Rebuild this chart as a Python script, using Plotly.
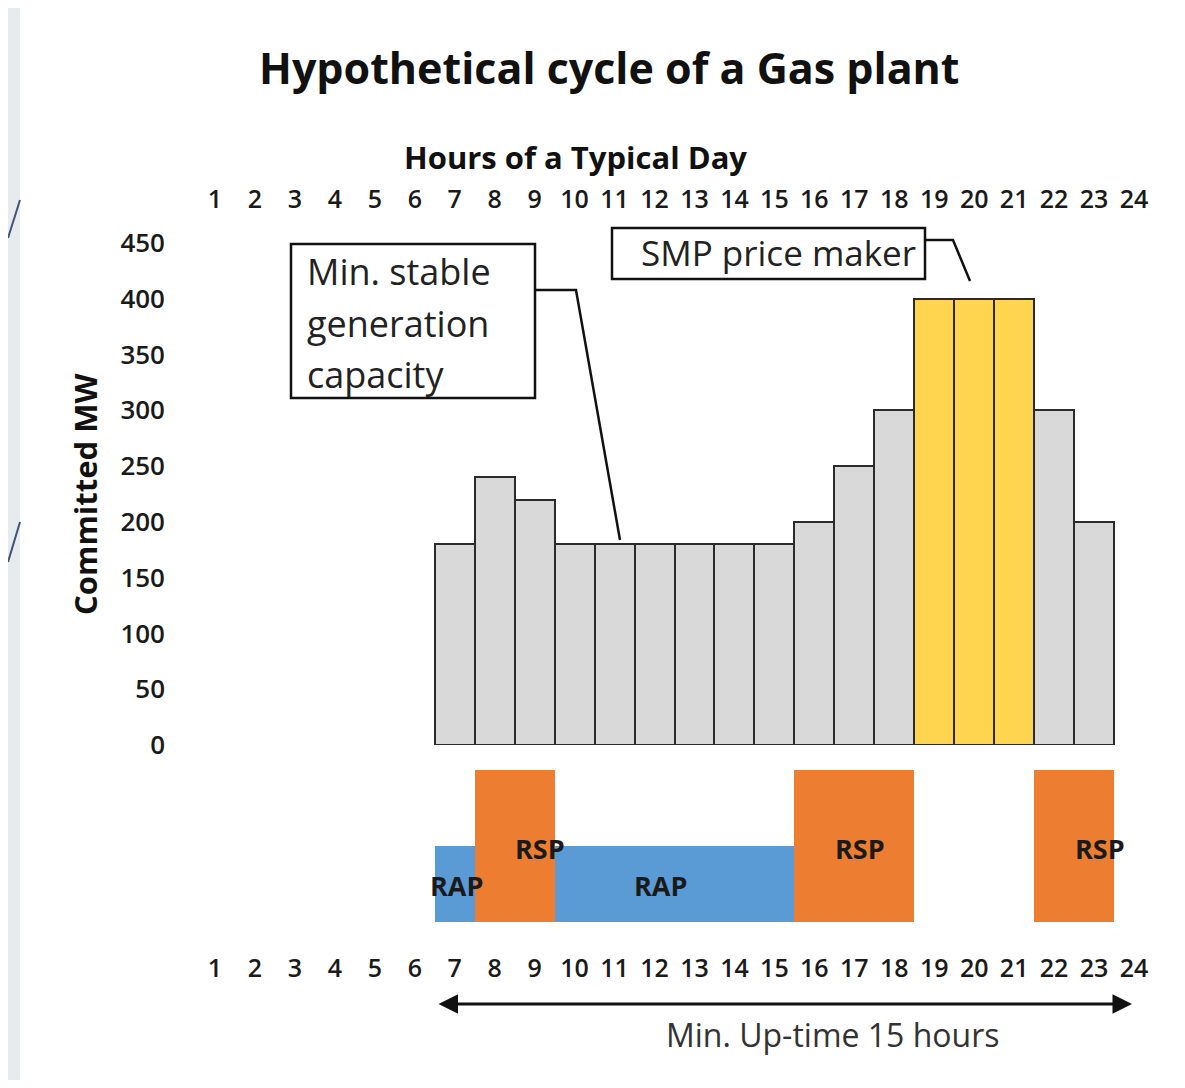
import plotly.graph_objects as go

# ---------------- data ----------------
hours = list(range(1, 25))
bar_hours = list(range(7, 24))
committed_mw = [180, 240, 220, 180, 180, 180, 180, 180, 180, 200, 250, 300, 400, 400, 400, 300, 200]
smp_hours = [19, 20, 21]
y_ticks = [0, 50, 100, 150, 200, 250, 300, 350, 400, 450]

rsp_hours = [8, 9, 16, 17, 18, 22, 23]
rap_hours = [7, 10, 11, 12, 13, 14, 15]
rsp_level = 2
rap_level = 1

# page body has an 8px margin; figure pixel = reference pixel - 8
OFF = 8
W, H = 1169, 1072
L = 195 - OFF
R = W - (1154 - OFF)
FONT = "Open Sans"

def xp(px):
    return (px - OFF - L) / (W - L - R)

def yp(py):
    return 1 - (py - OFF) / H

bar_colors = ["#FFD54F" if h in smp_hours else "#D9D9D9" for h in bar_hours]

fig = go.Figure()
fig.add_trace(go.Bar(
    x=bar_hours, y=committed_mw, width=1,
    marker=dict(color=bar_colors, line=dict(color="#2b2b2b", width=2)),
    xaxis="x", yaxis="y", showlegend=False,
))
fig.add_trace(go.Bar(
    x=rsp_hours, y=[rsp_level] * len(rsp_hours), width=1,
    marker=dict(color="#ED7D31", line=dict(width=0)),
    xaxis="x2", yaxis="y2", showlegend=False,
))
fig.add_trace(go.Bar(
    x=rap_hours, y=[rap_level] * len(rap_hours), width=1,
    marker=dict(color="#5B9BD5", line=dict(width=0)),
    xaxis="x2", yaxis="y2", showlegend=False,
))

tickfont = dict(family=FONT, size=25, color="#1a1a1a", weight=600)

fig.update_layout(
    width=W, height=H,
    margin=dict(l=L, r=R, t=0, b=0, autoexpand=False),
    paper_bgcolor="white", plot_bgcolor="white",
    bargap=0, barmode="overlay",
    xaxis=dict(domain=[0, 1], range=[0.5, 24.5], side="top", anchor="y", automargin=False,
               tickmode="array", tickvals=hours, ticktext=[str(h) for h in hours],
               tickfont=tickfont, ticks="", ticklabelstandoff=29,
               showgrid=False, zeroline=False, showline=False),
    yaxis=dict(domain=[yp(745), yp(243)], range=[0, 450], anchor="x", automargin=False,
               tickmode="array", tickvals=y_ticks,
               tickfont=dict(family=FONT, size=26, color="#1a1a1a", weight=600),
               ticklabelstandoff=29, showgrid=False, zeroline=False, showline=False),
    xaxis2=dict(domain=[0, 1], range=[0.5, 24.5], side="bottom", anchor="y2", automargin=False,
                tickmode="array", tickvals=hours, ticktext=[str(h) for h in hours],
                tickfont=tickfont, ticks="", ticklabelstandoff=29,
                showgrid=False, zeroline=False, showline=False),
    yaxis2=dict(domain=[yp(922), yp(770)], range=[0, 2], anchor="x2", automargin=False,
                showticklabels=False, showgrid=False, zeroline=False, showline=False),
    font=dict(family=FONT),
)

def text_ann(text, px, py, size, color="#111", xanchor="center", **kw):
    return dict(text=text, x=xp(px), y=yp(py), xref="paper", yref="paper",
                xanchor=xanchor, yanchor="middle", showarrow=False,
                font=dict(family=FONT, size=size, color=color), **kw)

ann = []
ann.append(text_ann("<b>Hypothetical cycle of a Gas plant</b>", 609, 68, 43))
ann.append(text_ann("<b>Hours of a Typical Day</b>", 575, 157, 31))
ann.append(text_ann("<b>Committed MW</b>", 85, 495, 31, textangle=-90))
for txt, py in [("Min. stable", 272), ("generation", 323), ("capacity", 374)]:
    ann.append(text_ann(txt, 305, py, 36, color="#222", xanchor="left"))
ann.append(text_ann("SMP price maker", 778, 252, 35, color="#222"))
for txt, px, py in [("RAP", 456, 885), ("RSP", 540, 848), ("RAP", 660, 885),
                    ("RSP", 860, 848), ("RSP", 1100, 848)]:
    ann.append(text_ann("<b>" + txt + "</b>", px, py, 27, color="#1a1a1a"))
ann.append(dict(text="", x=xp(1132), y=yp(1004), ax=-(1132 - 437), ay=0,
                xref="paper", yref="paper", axref="pixel", ayref="pixel",
                showarrow=True, arrowhead=2, arrowside="end+start", arrowsize=1.3,
                arrowwidth=3, arrowcolor="#111"))
ann.append(text_ann("Min. Up-time 15 hours", 833, 1034, 32, color="#333"))
fig.update_layout(annotations=ann)

shapes = []
shapes.append(dict(type="rect", xref="paper", yref="paper", x0=xp(OFF), x1=xp(20),
                   y0=0, y1=1, fillcolor="#E8EBEE", line=dict(width=0), layer="below"))
shapes.append(dict(type="line", xref="paper", yref="paper", x0=xp(OFF), y0=yp(238),
                   x1=xp(20), y1=yp(200), line=dict(color="#3E5378", width=2)))
shapes.append(dict(type="line", xref="paper", yref="paper", x0=xp(OFF), y0=yp(562),
                   x1=xp(20), y1=yp(522), line=dict(color="#3E5378", width=2)))
# min stable box
shapes.append(dict(type="rect", xref="paper", yref="paper", x0=xp(291), x1=xp(535),
                   y0=yp(398), y1=yp(244), line=dict(color="#111", width=2.5),
                   fillcolor="white"))
shapes.append(dict(type="path", xref="paper", yref="paper",
                   path=f"M {xp(535)},{yp(290)} L {xp(576)},{yp(290)} L {xp(620)},{yp(540)}",
                   line=dict(color="#111", width=2.5)))
# SMP box
shapes.append(dict(type="rect", xref="paper", yref="paper", x0=xp(612), x1=xp(925),
                   y0=yp(279), y1=yp(228), line=dict(color="#111", width=2.5),
                   fillcolor="white"))
shapes.append(dict(type="path", xref="paper", yref="paper",
                   path=f"M {xp(925)},{yp(240)} L {xp(953)},{yp(240)} L {xp(970)},{yp(281)}",
                   line=dict(color="#111", width=2.5)))
fig.update_layout(shapes=shapes)

fig.write_html("out.html")
